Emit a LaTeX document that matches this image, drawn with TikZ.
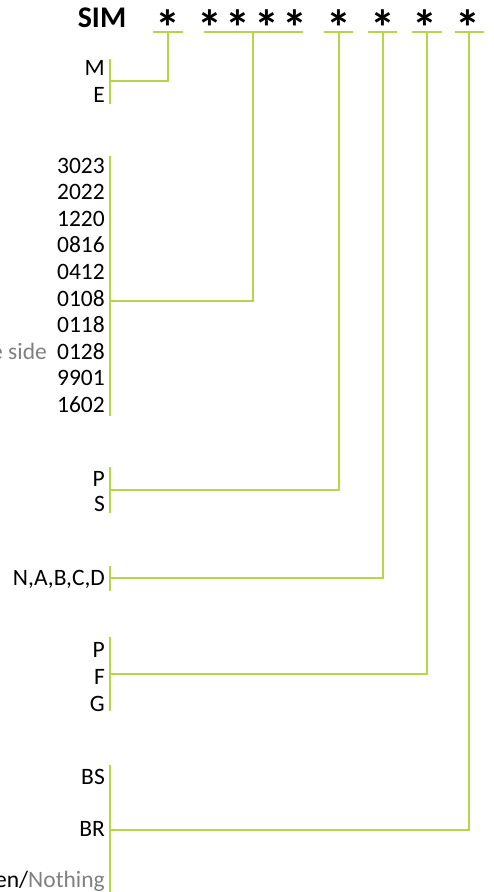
\documentclass[tikz,border=0pt]{standalone}
\usepackage{xcolor}
\usepackage{fontspec}
\setmainfont{Carlito}
\definecolor{mylime}{RGB}{181,214,72}
\definecolor{mygray}{RGB}{128,128,128}

\begin{document}
\begin{tikzpicture}[x=1pt,y=-1pt,
  link/.style={mylime,line width=1.3pt},
  lbl/.style={anchor=base east,inner sep=0pt,font=\fontsize{23.5}{27}\selectfont},
  star/.style={anchor=base,inner sep=0pt,font=\fontsize{50}{54}\selectfont\bfseries}]
\useasboundingbox (0,0) rectangle (494,892);

% Header: SIM and the nine stars
\node[anchor=base,inner sep=0pt,font=\fontsize{30}{34}\selectfont\bfseries] (sim) at (102,27) {SIM};
\foreach \x [count=\i] in {168,210,238,267,295,339,383,425,468}
  \node[star] (s\i) at (\x,45) {*};

% Bars under the stars
\draw[link] (153,32) -- (183,32);
\draw[link] (204,32) -- (303,32);
\draw[link] (324,32) -- (353,32);
\draw[link] (368,32) -- (397,32);
\draw[link] (412,32) -- (442,32);
\draw[link] (455,32) -- (484,32);
\coordinate (u1) at (168,32);
\coordinate (u2) at (253,32);
\coordinate (u3) at (339,32);
\coordinate (u4) at (383,32);
\coordinate (u5) at (427,32);
\coordinate (u6) at (469,32);

% M / E
\node[lbl] (m) at (105,75) {M};
\node[lbl] (e) at (105,102) {E};
\draw[link] (110,59) -- (110,104);
\coordinate (j1) at (110,81);
\draw[link] (u1) |- (j1);

% Codes
\foreach \code [count=\i] in {3023,2022,1220,0816,0412,0108,0118,0128,9901,1602}
  \node[lbl] (c\i) at (105,{146.5+26.6*\i}) {\code};
\node[lbl,mygray] (side) at (47,{146.5+26.6*8}) {e side};
\draw[link] (110,156) -- (110,416);
\coordinate (j2) at (110,301);
\draw[link] (u2) |- (j2);

% P / S
\node[lbl] (p1) at (105,486) {P};
\node[lbl] (s) at (105,511) {S};
\draw[link] (110,467) -- (110,513);
\coordinate (j3) at (110,490);
\draw[link] (u3) |- (j3);

% N,A,B,C,D
\node[lbl] (abc) at (105,585) {N,A,B,C,D};
\draw[link] (110,566) -- (110,591);
\coordinate (j4) at (110,578);
\draw[link] (u4) |- (j4);

% P / F / G
\node[lbl] (p2) at (105,657) {P};
\node[lbl] (f) at (105,684) {F};
\node[lbl] (g) at (105,711) {G};
\draw[link] (110,637) -- (110,711);
\coordinate (j5) at (110,674);
\draw[link] (u5) |- (j5);

% BS / BR / Nothing
\node[lbl] (bs) at (105,784) {BS};
\node[lbl] (br) at (105,836) {BR};
\node[lbl] (none) at (105,887) {en/\textcolor{mygray}{Nothing}};
\draw[link] (110,765) -- (110,892);
\coordinate (j6) at (110,830);
\draw[link] (u6) |- (j6);

\end{tikzpicture}
\end{document}
